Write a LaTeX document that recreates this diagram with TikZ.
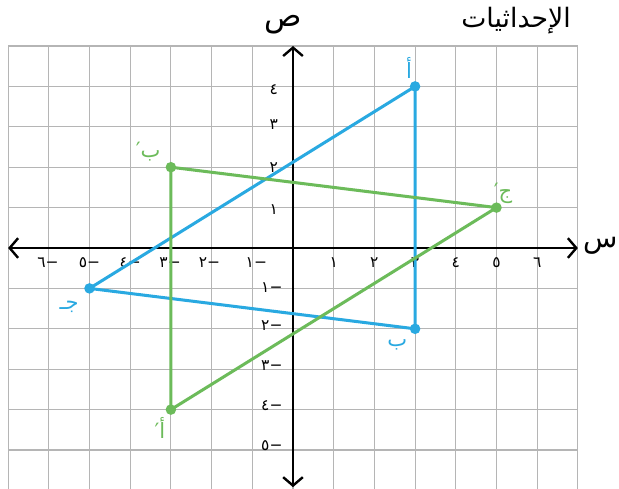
\documentclass[tikz,border=0pt]{standalone}
\usepackage{fontspec}
\usetikzlibrary{arrows.meta}
\newfontfamily\arabicfont[Script=Arabic]{DejaVu Sans}
\TeXXeTstate=1
\definecolor{tblue}{HTML}{29A9E1}
\definecolor{tgreen}{HTML}{6CBB5A}
\definecolor{gridgray}{HTML}{B5B5B5}
\tikzset{
  gridline/.style={draw=gridgray, line width=1.5pt},
  axisline/.style={draw=black, line width=3.4pt, {Straight Barb[length=12pt,width=28pt,line width=3.4pt]}-{Straight Barb[length=12pt,width=28pt,line width=3.4pt]}},
  blueline/.style={draw=tblue, line width=4.3pt, line join=round},
  greenline/.style={draw=tgreen, line width=4.3pt, line join=round},
  bluedot/.style={fill=tblue, draw=none},
  greendot/.style={fill=tgreen, draw=none},
  ticklab/.style={font=\arabicfont\fontsize{22}{22}\selectfont, inner sep=0pt},
  ptlab/.style={font=\arabicfont\fontsize{30}{30}\selectfont, inner sep=0pt},
}
\begin{document}
\begin{tikzpicture}[x=2.035cm, y=2.02cm]
\useasboundingbox (-7.199,-5.965) rectangle (8.010,6.139);
\fill[white] (-7.199,-5.965) rectangle (8.010,6.139);
% grid
\foreach \i in {-7,...,7} \draw[gridline] (\i,-6) -- (\i,5);
\foreach \j in {-6,...,5} \draw[gridline] (-7,\j) -- (7,\j);
% axes
\coordinate (xl) at (-7,0);
\coordinate (xr) at (7,0);
\coordinate (yt) at (0,5);
\coordinate (yb) at (0,-5.92);
\draw[axisline] (xl) -- (xr);
\draw[axisline] (yb) -- (yt);
% axis titles
\node[font=\arabicfont\fontsize{44}{44}\selectfont, inner sep=0pt] (ylab) at (-0.25,5.52) {\beginR ص\endR};
\node[font=\arabicfont\fontsize{40}{40}\selectfont, inner sep=0pt] (xlab) at (7.55,0.05) {\beginR س\endR};
\node[font=\arabicfont\fontsize{38}{38}\selectfont, inner sep=0pt] (title) at (5.48,5.64) {\beginR الإحداثيات\endR};
% x tick labels
\node[ticklab] (x1) at (1,-0.37) {١};
\node[ticklab] (x2) at (2,-0.37) {٢};
\node[ticklab] (x3) at (3,-0.37) {٣};
\node[ticklab] (x4) at (4,-0.37) {٤};
\node[ticklab] (x5) at (5,-0.37) {٥};
\node[ticklab] (x6) at (6,-0.37) {٦};
\node[ticklab] (xm1) at (-0.9,-0.35) {−١};
\node[ticklab] (xm2) at (-2.05,-0.35) {−٢};
\node[ticklab] (xm3) at (-3.02,-0.35) {−٣};
\node[ticklab] (xm4) at (-4,-0.35) {−٤};
\node[ticklab] (xm5) at (-5,-0.35) {−٥};
\node[ticklab] (xm6) at (-6.02,-0.35) {−٦};
% y tick labels
\node[ticklab] (y1) at (-0.47,0.94) {١};
\node[ticklab] (y2) at (-0.47,2.0) {٢};
\node[ticklab] (y3) at (-0.47,3.05) {٣};
\node[ticklab] (y4) at (-0.47,3.92) {٤};
\node[ticklab] (ym1) at (-0.52,-0.97) {−١};
\node[ticklab] (ym2) at (-0.52,-1.92) {−٢};
\node[ticklab] (ym3) at (-0.52,-2.92) {−٣};
\node[ticklab] (ym4) at (-0.52,-3.9) {−٤};
\node[ticklab] (ym5) at (-0.52,-4.9) {−٥};
% blue triangle
\coordinate (pA) at (3,4);
\coordinate (pB) at (3,-2);
\coordinate (pC) at (-5,-1);
\draw[blueline] (pA) -- (pB) -- (pC) -- cycle;
\foreach \p in {pA,pB,pC} \fill[bluedot] (\p) circle (7.5pt);
% green triangle
\coordinate (qA) at (-3,-4);
\coordinate (qB) at (-3,2);
\coordinate (qC) at (5,1);
\draw[greenline] (qA) -- (qB) -- (qC) -- cycle;
\foreach \p in {qA,qB,qC} \fill[greendot] (\p) circle (7.5pt);
% point labels
\node[ptlab, text=tblue] (lA) at (2.85,4.45) {\beginR أ\endR};
\node[ptlab, text=tblue] (lB) at (2.56,-2.40) {\beginR ب\endR};
\node[ptlab, text=tblue] (lC) at (-5.50,-1.45) {\beginR جـ\endR};
\node[ptlab, text=tgreen] (mB) at (-3.56,2.38) {\beginR ب′\endR};
\node[ptlab, text=tgreen] (mC) at (5.16,1.36) {\beginR ج′\endR};
\node[ptlab, text=tgreen] (mA) at (-3.27,-4.46) {\beginR أ′\endR};
\end{tikzpicture}
\end{document}
